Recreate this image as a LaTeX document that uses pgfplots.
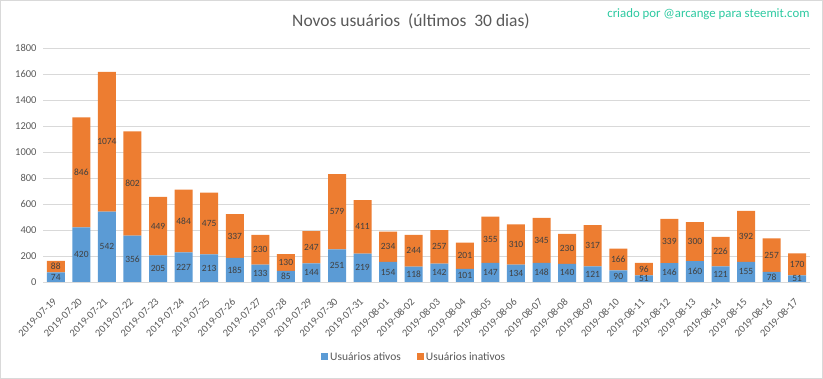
\documentclass[border=0pt]{standalone}
\usepackage{pgfplots}
\usepackage{pgfplotstable}
\usepackage{fontspec}
\setmainfont{Carlito}
\pgfplotsset{compat=1.18}
\definecolor{ablue}{HTML}{5B9BD5}
\definecolor{aorange}{HTML}{ED7D31}
\definecolor{txt}{HTML}{595959}
\definecolor{lbl}{HTML}{404040}
\definecolor{gridc}{HTML}{D9D9D9}
\definecolor{wmark}{HTML}{2CC9A0}
\pgfplotstableread{
x a i
0 74 88
1 420 846
2 542 1074
3 356 802
4 205 449
5 227 484
6 213 475
7 185 337
8 133 230
9 85 130
10 144 247
11 251 579
12 219 411
13 154 234
14 118 244
15 142 257
16 101 201
17 147 355
18 134 310
19 148 345
20 140 230
21 121 317
22 90 166
23 51 96
24 146 339
25 160 300
26 121 226
27 155 392
28 78 257
29 51 170
}\data
\begin{document}
\begin{tikzpicture}[x=1pt,y=1pt]
\path[use as bounding box] (0,0) rectangle (823,379);
\draw[gridc, line width=0.8pt] (0.5,0.5) rectangle (822.5,378.5);
\begin{axis}[at={(43pt,97pt)}, anchor=south west, scale only axis,
  width=767pt, height=234pt,
  ybar stacked, bar width=18pt,
  xmin=-0.5, xmax=29.5, ymin=0, ymax=1800,
  ytick={0,200,...,1800},
  xtick={0,...,29},
  xticklabels={2019-07-19,2019-07-20,2019-07-21,2019-07-22,2019-07-23,2019-07-24,2019-07-25,2019-07-26,2019-07-27,2019-07-28,2019-07-29,2019-07-30,2019-07-31,2019-08-01,2019-08-02,2019-08-03,2019-08-04,2019-08-05,2019-08-06,2019-08-07,2019-08-08,2019-08-09,2019-08-10,2019-08-11,2019-08-12,2019-08-13,2019-08-14,2019-08-15,2019-08-16,2019-08-17},
  axis line style={draw=none},
  tick style={draw=none},
  ymajorgrids, major grid style={gridc, line width=0.8pt},
  /pgf/number format/assume math mode=true,
  /pgf/number format/1000 sep={},
  yticklabel style={font=\fontsize{10.5}{12}\selectfont, text=txt, xshift=-3pt},
  xticklabel style={rotate=45, anchor=north east, font=\fontsize{10.5}{12}\selectfont, text=txt, xshift=-10pt, yshift=-5pt},
  point meta=explicit symbolic,
  nodes near coords,
  every node near coord/.append style={font=\fontsize{9.5}{11}\selectfont, text=lbl, anchor=center},
  legend style={at={(0.484,-0.32)}, anchor=center, draw=none, legend columns=2,
    font=\fontsize{11.5}{13}\selectfont, text=txt,
    /tikz/every even column/.append style={column sep=14pt}},
  legend image code/.code={\fill[#1] (0pt,-3.5pt) rectangle (7pt,3.5pt);},
  clip=false,
]
\addplot[fill=ablue, draw=none] table[x=x, y=a, meta=a] {\data};
\addplot[fill=aorange, draw=none] table[x=x, y=i, meta=i] {\data};
\legend{Usuários ativos, Usuários inativos}
\end{axis}
\node[text=txt, font=\fontsize{17.5}{19}\selectfont] at (411,358) {Novos usuários\ \ (últimos\ \ 30 dias)};
\node[text=wmark, font=\fontsize{12.8}{14}\selectfont, anchor=east] at (813,365) {criado por @arcange para steemit.com};
\end{tikzpicture}
\end{document}
